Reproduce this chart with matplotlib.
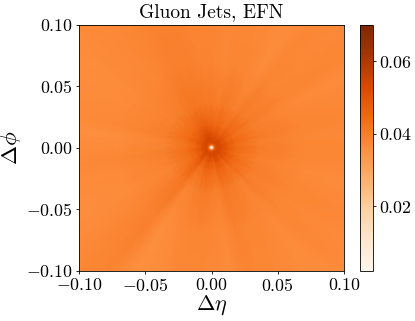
import numpy as np
import matplotlib
matplotlib.use("Agg")
import matplotlib.pyplot as plt
from matplotlib.colors import Normalize

plt.rcParams["mathtext.fontset"] = "cm"
plt.rcParams["font.family"] = "cmr10"
plt.rcParams["axes.unicode_minus"] = False
plt.rcParams["axes.formatter.use_mathtext"] = True

TITLE = "Gluon Jets, EFN"
X_LABEL = r"$\Delta\eta$"
Y_LABEL = r"$\Delta\phi$"
AXIS_TICKS = [-0.10, -0.05, 0.00, 0.05, 0.10]
AXIS_TICK_LABELS = ["$-0.10$", "$-0.05$", "$0.00$", "$0.05$", "$0.10$"]
CBAR_TICKS = [0.02, 0.04, 0.06]
CBAR_TICK_LABELS = ["$0.02$", "$0.04$", "$0.06$"]
VMIN = 0.0023
VMAX = 0.0702

# Angle of each column (degrees, counter-clockwise from +x).
angles_deg = [i * 7.5 for i in range(48)]

# Radial profile close to the centre (same at all angles).
inner_radii = [0.0, 0.0011, 0.0016, 0.0024, 0.0035, 0.0050]
inner_values = [25, 30, 230, 440, 510, 535]

# Rays further out, one row per radius.
ray_radii = [0.0080, 0.0125, 0.018, 0.035, 0.070, 0.145]
ray_008 = [520, 512, 522, 516, 510, 520, 516, 520, 508, 518, 524, 520,
           532, 538, 542, 544, 534, 524, 518, 512, 508, 510, 506, 492,
           496, 504, 500, 500, 498, 506, 520, 532, 506, 504, 522, 528,
           524, 510, 532, 530, 522, 510, 524, 516, 522, 518, 512, 520]
ray_012 = [484, 474, 486, 480, 472, 486, 480, 486, 470, 482, 490, 484,
           498, 504, 510, 512, 500, 488, 482, 476, 472, 476, 468, 452,
           458, 468, 462, 462, 460, 468, 484, 500, 468, 466, 486, 492,
           486, 470, 498, 494, 486, 472, 490, 480, 486, 480, 472, 482]
ray_018 = [450, 442, 452, 448, 440, 454, 450, 456, 440, 452, 458, 450,
           464, 468, 474, 476, 466, 454, 450, 446, 444, 448, 442, 428,
           434, 442, 438, 438, 436, 444, 458, 470, 440, 438, 456, 460,
           454, 440, 464, 460, 454, 440, 458, 448, 454, 448, 440, 450]
ray_035 = [404, 396, 406, 402, 396, 406, 402, 406, 392, 402, 408, 400,
           412, 412, 418, 420, 410, 402, 398, 394, 392, 396, 396, 384,
           388, 396, 390, 388, 386, 394, 406, 416, 386, 390, 404, 408,
           402, 390, 412, 406, 400, 388, 404, 396, 402, 396, 392, 400]
ray_070 = [380, 374, 382, 378, 370, 382, 376, 382, 366, 378, 382, 374,
           386, 384, 392, 394, 386, 378, 374, 370, 368, 372, 374, 362,
           368, 376, 370, 368, 366, 374, 384, 392, 362, 368, 380, 382,
           378, 368, 388, 382, 378, 368, 380, 374, 380, 374, 370, 378]
ray_145 = [372, 364, 373, 368, 362, 376, 368, 372, 357, 368, 373, 366,
           376, 374, 382, 384, 376, 370, 366, 360, 358, 362, 365, 354,
           358, 366, 360, 358, 356, 364, 374, 382, 352, 358, 370, 372,
           368, 360, 376, 372, 366, 358, 370, 364, 370, 364, 360, 368]

radii = np.array(inner_radii + ray_radii)
theta = np.deg2rad(angles_deg + [360.0])
rows = [[v] * 49 for v in inner_values]
for row in (ray_008, ray_012, ray_018, ray_035, ray_070, ray_145):
    rows.append(row + row[:1])
Z = np.array(rows, dtype=float) * 1e-4
T, R = np.meshgrid(theta, radii)
X = R * np.cos(T)
Y = R * np.sin(T)

fig = plt.figure(figsize=(4.15, 3.21), dpi=100)
W, H = 415.0, 321.0
ax = fig.add_axes([79 / W, (H - 270.5) / H, 265 / W, 246 / H])
cax = fig.add_axes([360 / W, (H - 270.5) / H, 13 / W, 246 / H])

mesh = ax.pcolormesh(X, Y, Z, cmap="Oranges", shading="gouraud",
                     norm=Normalize(VMIN, VMAX), rasterized=True)
ax.set_xlim(-0.1, 0.1)
ax.set_ylim(-0.1, 0.1)
ax.set_xticks(AXIS_TICKS, AXIS_TICK_LABELS)
ax.set_yticks(AXIS_TICKS, AXIS_TICK_LABELS)
ax.tick_params(labelsize=12.8, pad=2, length=2.5, width=0.6)
ax.set_xlabel(X_LABEL, fontsize=16, labelpad=0)
ax.set_ylabel(Y_LABEL, fontsize=16.5, labelpad=2)
ax.set_title(TITLE, fontsize=14, pad=5)
for s in ax.spines.values():
    s.set_linewidth(0.6)

cbar = fig.colorbar(mesh, cax=cax)
cbar.set_ticks(CBAR_TICKS, labels=CBAR_TICK_LABELS)
cbar.ax.tick_params(labelsize=12.8, pad=2, length=2.5, width=0.6)
cbar.outline.set_linewidth(0.6)

fig.savefig("out.png", dpi=100)
